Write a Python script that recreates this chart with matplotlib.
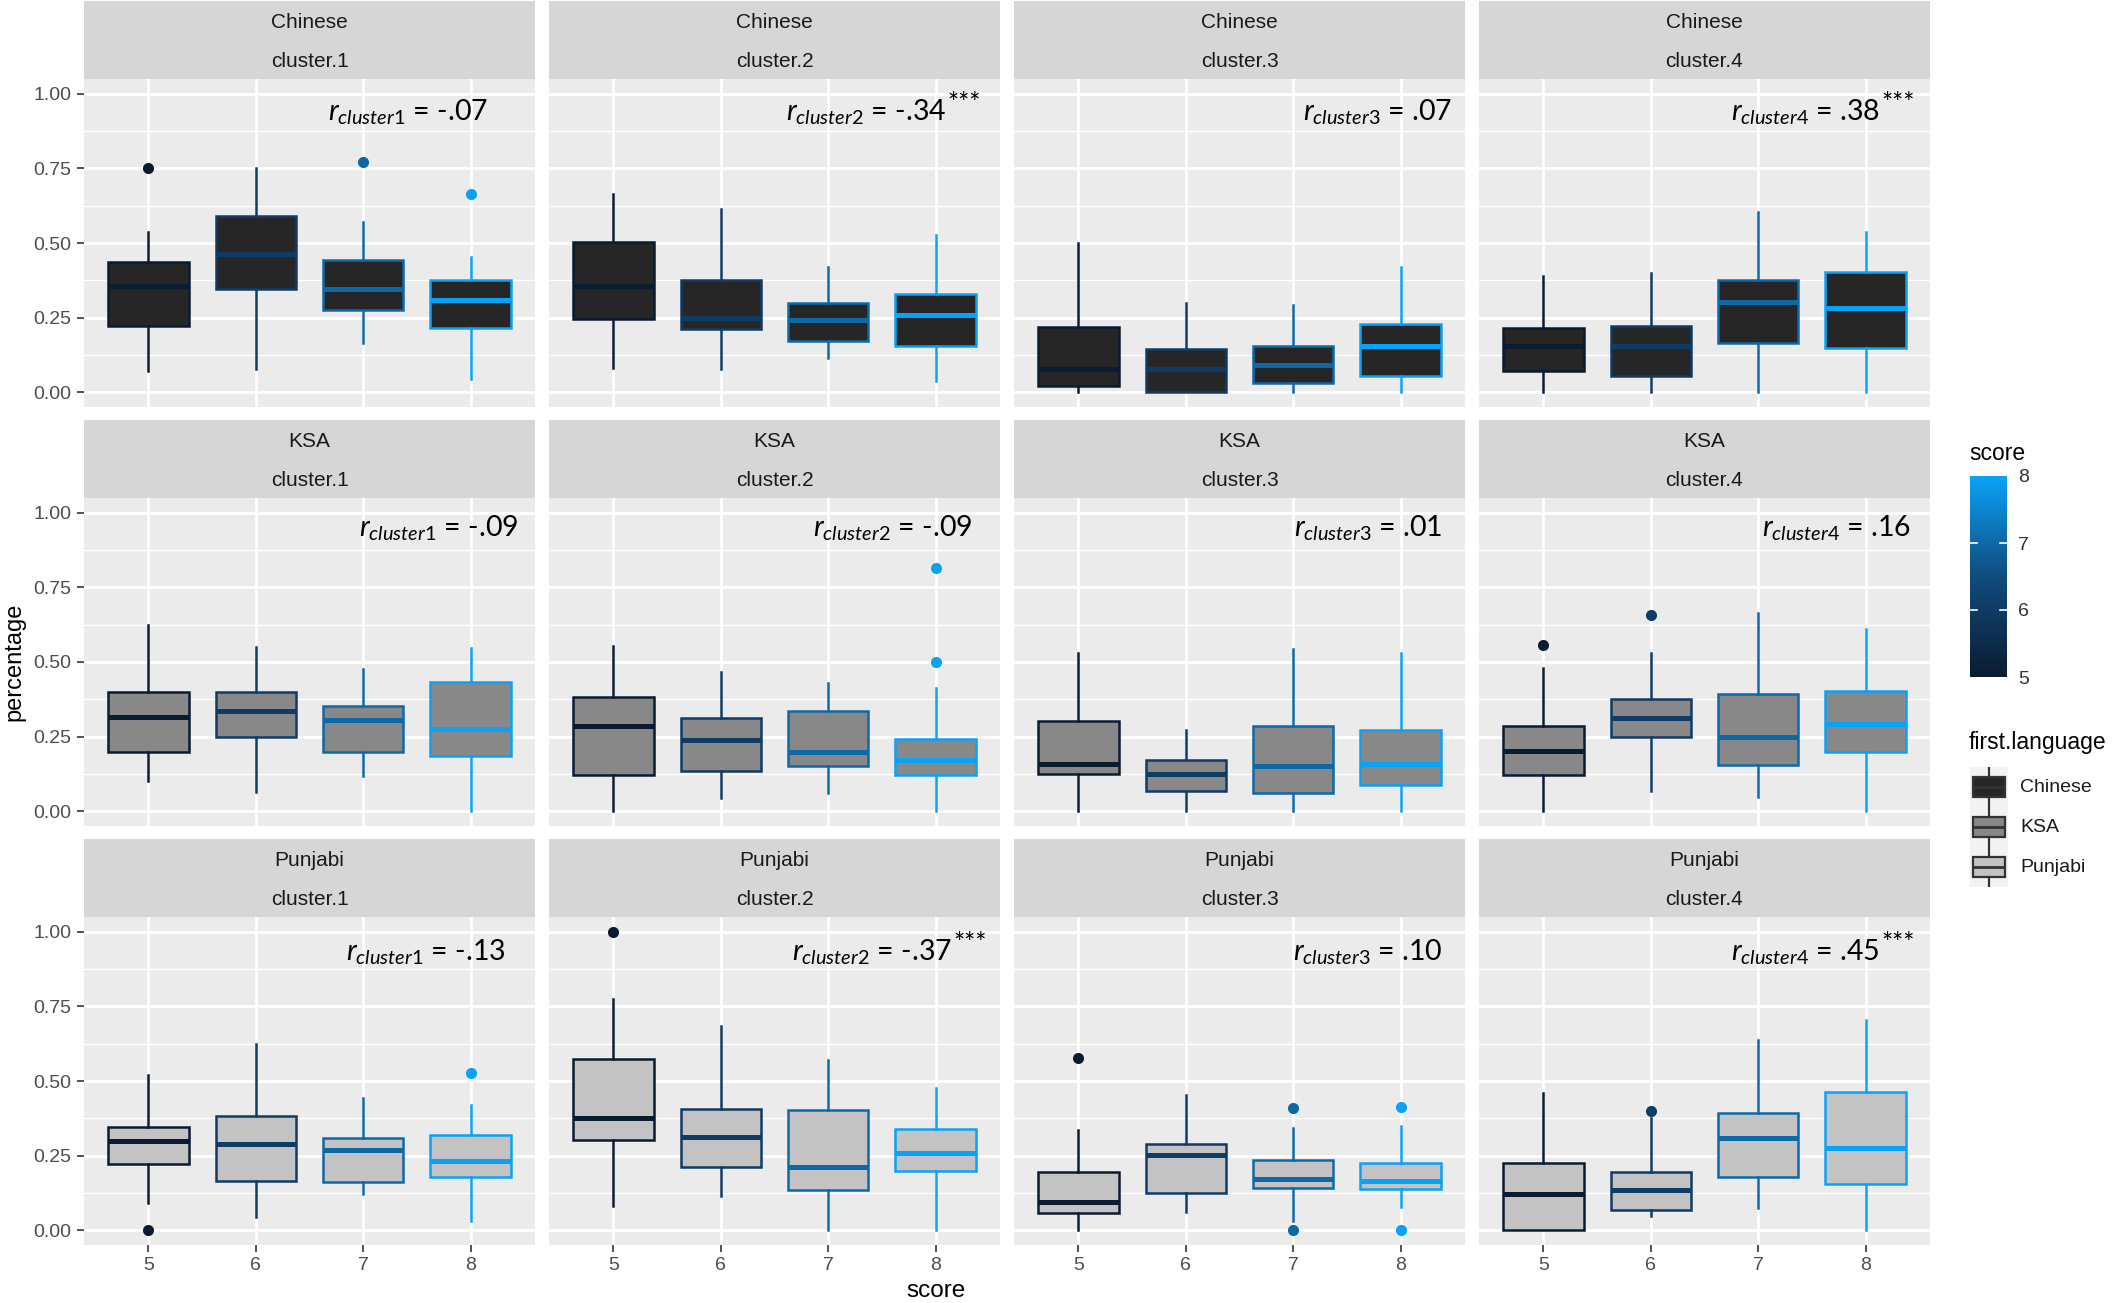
import numpy as np
import matplotlib
matplotlib.use("Agg")
import matplotlib.pyplot as plt
from matplotlib.colors import LinearSegmentedColormap, Normalize
from matplotlib.colorbar import ColorbarBase
from matplotlib.transforms import offset_copy

plt.rcParams['font.family'] = ['Liberation Sans', 'DejaVu Sans']
plt.rcParams['mathtext.fontset'] = 'custom'
plt.rcParams['mathtext.rm'] = 'Lato'
plt.rcParams['mathtext.it'] = 'Lato:italic'

# ---- data: rows = cluster 1..4, cols = score 5..8
scores = [5, 6, 7, 8]
languages = ["Chinese", "KSA", "Punjabi"]
clusters = ["cluster.1", "cluster.2", "cluster.3", "cluster.4"]

chinese_lo = [[.070, .076, .165, .043], [.082, .076, .115, .037], [0, 0, 0, 0], [0, 0, 0, 0]]
chinese_q1 = [[.222, .346, .275, .216], [.246, .212, .173, .153], [.021, 0, .029, .055], [.071, .055, .166, .147]]
chinese_med = [[.357, .462, .347, .309], [.357, .249, .242, .257], [.078, .078, .090, .155], [.155, .155, .301, .283]]
chinese_q3 = [[.435, .591, .444, .375], [.502, .376, .299, .328], [.219, .145, .156, .230], [.216, .222, .376, .404]]
chinese_hi = [[.537, .750, .570, .452], [.666, .615, .419, .526], [.500, .300, .292, .419], [.388, .399, .604, .537]]
chinese_out = [(1, 5, .750), (1, 7, .770), (1, 8, .666)]

ksa_lo = [[.100, .065, .119, 0], [0, .045, .059, 0], [0, 0, 0, 0], [0, .066, .047, 0]]
ksa_q1 = [[.198, .248, .198, .186], [.122, .134, .150, .122], [.123, .067, .059, .086], [.122, .247, .156, .198]]
ksa_med = [[.316, .335, .306, .274], [.286, .239, .199, .170], [.157, .125, .150, .159], [.200, .311, .250, .293]]
ksa_q3 = [[.401, .398, .353, .434], [.384, .311, .335, .243], [.302, .171, .287, .272], [.287, .376, .393, .402]]
ksa_hi = [[.624, .549, .478, .548], [.554, .465, .428, .414], [.529, .272, .543, .531], [.480, .531, .664, .610]]
ksa_out = [(2, 8, .816), (2, 8, .500), (4, 5, .557), (4, 6, .657)]

punjabi_lo = [[.092, .043, .122, .029], [.080, .113, 0, 0], [0, .062, .032, .077], [0, .048, .073, 0]]
punjabi_q1 = [[.222, .165, .162, .178], [.302, .212, .133, .198], [.058, .123, .142, .138], [0, .068, .177, .155]]
punjabi_med = [[.299, .288, .269, .232], [.377, .313, .213, .258], [.095, .251, .172, .166], [.122, .134, .309, .274]]
punjabi_q3 = [[.345, .384, .310, .318], [.574, .406, .404, .338], [.196, .290, .235, .226], [.224, .194, .393, .464]]
punjabi_hi = [[.521, .625, .442, .420], [.776, .686, .571, .476], [.334, .454, .344, .350], [.461, .375, .636, .705]]
punjabi_out = [(1, 5, 0), (1, 8, .526), (2, 5, 1.0), (3, 5, .577), (3, 7, .411), (3, 7, 0),
               (3, 8, .412), (3, 8, 0), (4, 6, .401)]

r_chinese = ["-.07", "-.34", ".07", ".38"]
r_ksa = ["-.09", "-.09", ".01", ".16"]
r_punjabi = ["-.13", "-.37", ".10", ".45"]
stars_chinese = ["", "***", "", "***"]
stars_ksa = ["", "", "", ""]
stars_punjabi = ["", "***", "", "***"]

fills = {"Chinese": "#262626", "KSA": "#888888", "Punjabi": "#C3C3C3"}
score_cmap = LinearSegmentedColormap.from_list("score", ["#0B1B30", "#0F4C7E", "#0AA2F7"])
score_norm = Normalize(5, 8)

stats_by_lang = {
    "Chinese": (chinese_lo, chinese_q1, chinese_med, chinese_q3, chinese_hi, chinese_out, r_chinese, stars_chinese),
    "KSA": (ksa_lo, ksa_q1, ksa_med, ksa_q3, ksa_hi, ksa_out, r_ksa, stars_ksa),
    "Punjabi": (punjabi_lo, punjabi_q1, punjabi_med, punjabi_q3, punjabi_hi, punjabi_out, r_punjabi, stars_punjabi),
}

# annotation right edges (axes fraction, before the stars) and baselines, per row / column
label_x = [[0.896, 0.880, 0.971, 0.889],
           [0.962, 0.938, 0.949, 0.958],
           [0.935, 0.893, 0.951, 0.889]]
label_y = [0.912, 0.92, 0.905]

W, H = 2126, 1303
fig = plt.figure(figsize=(W / 100, H / 100), dpi=100)


def px_axes(left, top, w, h):
    return fig.add_axes([left / W, 1 - (top + h) / H, w / W, h / H])


col_left = [84, 549, 1014, 1479]
panel_w = 451
row_top = [79, 498, 917]
panel_h = 328
strip_h = 78

for r, lang in enumerate(languages):
    lo, q1, med, q3, hi, out, rvals, stars = stats_by_lang[lang]
    for c, cl in enumerate(clusters):
        # strip
        sax = px_axes(col_left[c], row_top[r] - strip_h, panel_w, strip_h)
        sax.set_facecolor("#D6D6D6")
        sax.set_xticks([]); sax.set_yticks([])
        for s in sax.spines.values():
            s.set_visible(False)
        sax.text(0.5, 0.72, lang, ha="center", va="center", fontsize=15, color="#1A1A1A", transform=sax.transAxes)
        sax.text(0.5, 0.22, cl, ha="center", va="center", fontsize=15, color="#1A1A1A", transform=sax.transAxes)

        ax = px_axes(col_left[c], row_top[r], panel_w, panel_h)
        ax.set_facecolor("#EBEBEB")
        for s in ax.spines.values():
            s.set_visible(False)
        ax.set_axisbelow(True)
        ax.set_xlim(4.4, 8.6)
        ax.set_ylim(-0.05, 1.05)
        ax.set_yticks([0, .25, .5, .75, 1.0])
        ax.set_yticks([.125, .375, .625, .875], minor=True)
        ax.set_xticks(scores)
        ax.grid(which="major", color="white", lw=2.0)
        ax.grid(which="minor", axis="y", color="white", lw=1.0)
        ax.tick_params(which="minor", length=0)
        ax.tick_params(which="major", length=5, width=1.2, color="#333333", labelsize=14,
                       labelcolor="#4D4D4D", pad=4)
        if c == 0:
            ax.set_yticklabels(["0.00", "0.25", "0.50", "0.75", "1.00"])
        else:
            ax.tick_params(axis="y", length=0, labelleft=False)
        if r == 2:
            ax.set_xticklabels([str(s) for s in scores])
        else:
            ax.tick_params(axis="x", length=0, labelbottom=False)

        stats = []
        for k, sc in enumerate(scores):
            fl = [v for (cc, ss, v) in out if cc == c + 1 and ss == sc]
            stats.append(dict(whislo=lo[c][k], q1=q1[c][k], med=med[c][k], q3=q3[c][k],
                              whishi=hi[c][k], fliers=fl))
        bp = ax.bxp(stats, positions=scores, widths=0.75, patch_artist=True, showcaps=False,
                    manage_ticks=False,
                    boxprops=dict(linewidth=1.8),
                    whiskerprops=dict(linewidth=1.8),
                    medianprops=dict(linewidth=3.6, solid_capstyle="butt"),
                    flierprops=dict(marker="o", markersize=8, markeredgewidth=0))
        for k, sc in enumerate(scores):
            col = score_cmap(score_norm(sc))
            bp["boxes"][k].set_facecolor(fills[lang])
            bp["boxes"][k].set_edgecolor(col)
            bp["medians"][k].set_color(col)
            bp["whiskers"][2 * k].set_color(col)
            bp["whiskers"][2 * k + 1].set_color(col)
            bp["fliers"][k].set_markerfacecolor(col)

        tr = ax.get_yaxis_transform()
        txt = r"$\mathit{r}_{\mathit{cluster%d}}$ = %s" % (c + 1, rvals[c])
        ax.text(label_x[r][c], label_y[r], txt, transform=tr,
                ha="right", va="baseline", fontsize=20.5, family="Lato", color="black")
        if stars[c]:
            ax.text(label_x[r][c], label_y[r], stars[c],
                    transform=offset_copy(tr, fig=fig, x=1, y=6, units="points"),
                    ha="left", va="baseline", fontsize=19, family="Lato", color="black")

# axis titles
fig.text(14 / W, 1 - 662 / H, "percentage", rotation=90, ha="center", va="center", fontsize=17)
fig.text(936 / W, 1 - 1291 / H, "score", ha="center", va="center", fontsize=17.5)

# colour legend
fig.text(1969 / W, 1 - 453 / H, "score", ha="left", va="center", fontsize=16.5)
cax = px_axes(1970, 476, 37, 201)
cb = ColorbarBase(cax, cmap=score_cmap, norm=score_norm, orientation="vertical")
cb.outline.set_visible(False)
cb.set_ticks([5, 6, 7, 8])
cax.tick_params(length=0, labelsize=14, labelcolor="#333333", pad=8)
for v in [6, 7]:
    cax.axhline(v, xmin=0, xmax=0.2, color="white", lw=1.2)
    cax.axhline(v, xmin=0.8, xmax=1, color="white", lw=1.2)

# fill legend
fig.text(1969 / W, 1 - 743 / H, "first.language", ha="left", va="center", fontsize=16.5)
for i, lang in enumerate(languages):
    top = 767 + i * 40
    kax = px_axes(1970, top, 38, 40)
    kax.set_facecolor("#F2F2F2")
    for s in kax.spines.values():
        s.set_visible(False)
    kax.set_xlim(0, 1); kax.set_ylim(0, 1)
    kax.bxp([dict(whislo=0.02, q1=0.24, med=0.5, q3=0.76, whishi=0.98, fliers=[])],
            positions=[0.5], widths=0.84, patch_artist=True, showcaps=False, manage_ticks=False,
            boxprops=dict(linewidth=1.6, edgecolor="#333333", facecolor=fills[lang]),
            whiskerprops=dict(linewidth=1.6, color="#333333"),
            medianprops=dict(linewidth=2.0, color="#333333"))
    kax.set_xticks([]); kax.set_yticks([])
    fig.text(2020 / W, 1 - (top + 20) / H, lang, ha="left", va="center", fontsize=14, color="#1A1A1A")

fig.savefig("out.png", dpi=100, facecolor="white")
